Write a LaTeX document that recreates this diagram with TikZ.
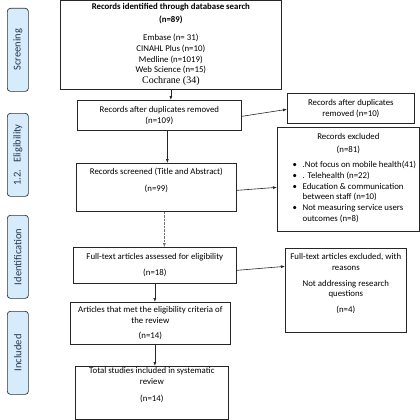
\documentclass[tikz,border=0pt]{standalone}
\usepackage{fontspec}
\setmainfont{Carlito}
\newfontfamily\serifcoch{Liberation Serif}
\usetikzlibrary{arrows.meta,calc}
\definecolor{lblfill}{HTML}{D6ECFB}
\definecolor{lbltext}{HTML}{22364F}
\begin{document}
\begin{tikzpicture}[x=1pt,y=-1pt,
  box/.style={draw=black!85,line width=0.7pt,anchor=north west,inner sep=0pt,align=center,
    font=\fontsize{8.8}{10.8}\selectfont},
  phase/.style={draw=black!80,line width=0.7pt,fill=lblfill,rounded corners=3pt,anchor=north west,
    inner sep=0pt},
  phasetext/.style={rotate=90,text=lbltext,font=\fontsize{10.5}{12}\selectfont},
  arr/.style={draw=black!85,line width=0.6pt,-{Latex[length=4pt,width=3pt]}},
  arrthin/.style={draw=black!55,line width=0.4pt,densely dotted,-{Latex[length=4pt,width=3pt]}}]
\useasboundingbox (0,0) rectangle (420,420);
% phase labels
\node[phase,minimum width=21pt,minimum height=83pt] (ph1) at (7,8) {};
\node[phasetext] (ph1t) at (ph1.center) {Screening};
\node[phase,minimum width=21pt,minimum height=83pt] (ph2) at (7,113) {};
\node[phasetext] (ph2t) at (ph2.center) {1.2.\hspace{7pt}Eligibility};
\node[phase,minimum width=21pt,minimum height=83pt] (ph3) at (7,215) {};
\node[phasetext] (ph3t) at (ph3.center) {Identification};
\node[phase,minimum width=21pt,minimum height=83pt] (ph4) at (7,311) {};
\node[phasetext] (ph4t) at (ph4.center) {Included};
% main boxes
\node[box,minimum width=221pt,minimum height=89pt] (b1) at (60,0)
  {\textbf{Records identified through database search}\\[2pt] \textbf{(n=89)}\\[7pt]
   Embase (n= 31)\\ CINAHL Plus (n=10)\\ Medline (n=1019)\\ Web Science (n=15)\\
   {\serifcoch\fontsize{10}{10.8}\selectfont Cochrane (34)}};
\node[box,minimum width=164pt,minimum height=30pt] (b2) at (77,100)
  {Records after duplicates removed\\ (n=109)};
\node[box,minimum width=127pt,minimum height=30pt] (s1) at (287,93)
  {Records after duplicates\\ removed (n=10)};
\node[box,minimum width=160pt,minimum height=48pt] (b3) at (76,163)
  {Records screened (Title and Abstract)\\[6pt] (n=99)\\[4pt]};
\node[box,minimum width=142pt,minimum height=104pt] (s2) at (277,127)
  {Records excluded\\[2pt] (n=81)\\[5pt]
   \hspace*{12pt}\begin{tabular}{@{}p{10pt}@{}l@{}}
   \textbullet & .Not focus on mobile health(41)\\
   \textbullet & . Telehealth (n=22)\\
   \textbullet & Education \& communication\\
               & between staff (n=10)\\
   \textbullet & Not measuring service users\\
               & outcomes (n=8)
   \end{tabular}};
\node[box,minimum width=163pt,minimum height=36pt] (b4) at (73,247)
  {Full-text articles assessed for eligibility\\[5pt] (n=18)};
\node[box,minimum width=121pt,minimum height=84pt] (s3) at (285,248)
  {Full-text articles excluded, with\\ reasons\\[5pt] Not addressing research\\ questions\\[5pt] (n=4)\\[4pt]};
\node[box,minimum width=160pt,minimum height=42pt] (b5) at (70,302)
  {Articles that met the eligibility criteria of\\ the review\\[4pt] (n=14)};
\node[box,minimum width=153pt,minimum height=53pt] (b6) at (75,366)
  {Total studies included in systematic\\ review\\[6pt] (n=14)\\[6pt]};
% connectors
\draw[arr] (b1.south) -- (b1.south |- b2.north);
\draw[arr] ([xshift=8pt]b2.south) -- ([xshift=8pt]b2.south |- b3.north);
\draw[arrthin] ([xshift=8pt]b3.south) -- ([xshift=8pt]b3.south |- b4.north);
\draw[arr] (b4.south) -- (b4.south |- b5.north);
\draw[arr] (b4.south |- b5.south) -- (b4.south |- b6.north);
\draw[arr] ([yshift=-1pt]b2.east) -- ([yshift=-1pt]s1.west);
\draw[arr] ([yshift=-3pt]b3.east) -- ([yshift=-8pt]s2.west);
\draw[arr] ([yshift=-5pt]b4.east) -- ([yshift=24pt]s3.west);
\end{tikzpicture}
\end{document}
